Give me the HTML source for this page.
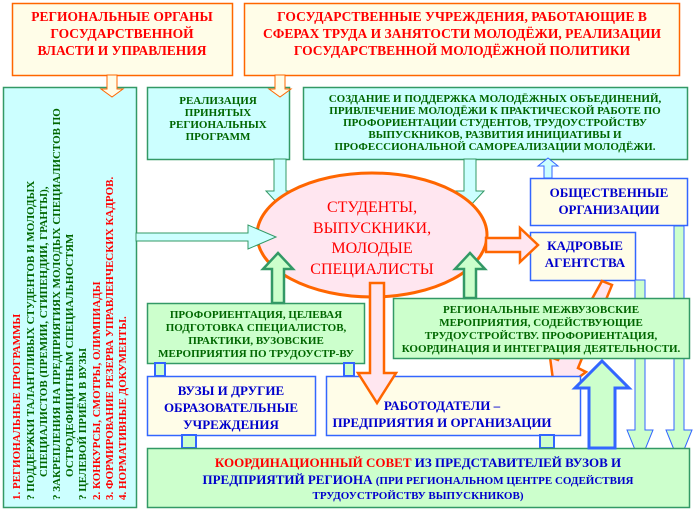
<!DOCTYPE html>
<html><head><meta charset="utf-8"><style>
html,body{margin:0;padding:0;background:#fff;}
svg{display:block}
</style></head><body>
<svg width="696" height="510" viewBox="0 0 696 510" xmlns="http://www.w3.org/2000/svg" font-family="'Liberation Serif', 'DejaVu Serif', serif" font-weight="bold">
<!-- top boxes -->
<rect x="12.5" y="3.5" width="220" height="72" fill="#fffde8" stroke="#ff6600" stroke-width="1.5"/>
<rect x="244.5" y="3.5" width="435" height="72" fill="#fffde8" stroke="#ff6600" stroke-width="1.5"/>
<g fill="#ff0000" font-size="13.5" text-anchor="middle">
<text x="122" y="21">РЕГИОНАЛЬНЫЕ ОРГАНЫ</text>
<text x="122" y="38">ГОСУДАРСТВЕННОЙ</text>
<text x="122" y="55">ВЛАСТИ И УПРАВЛЕНИЯ</text>
<text x="462" y="21">ГОСУДАРСТВЕННЫЕ УЧРЕЖДЕНИЯ, РАБОТАЮЩИЕ В</text>
<text x="462" y="38">СФЕРАХ ТРУДА И ЗАНЯТОСТИ МОЛОДЁЖИ, РЕАЛИЗАЦИИ</text>
<text x="462" y="55">ГОСУДАРСТВЕННОЙ МОЛОДЁЖНОЙ ПОЛИТИКИ</text>
</g>
<!-- left box -->
<rect x="3.5" y="87.5" width="133" height="420" fill="#ccffff" stroke="#339966" stroke-width="1.5"/>
<g font-size="11" transform="rotate(-90)">
<text x="-500" y="20" fill="#ff0000">1. РЕГИОНАЛЬНЫЕ ПРОГРАММЫ</text>
<text x="-500" y="34" fill="#006600">?   ПОДДЕРЖКИ ТАЛАНТЛИВЫХ СТУДЕНТОВ И МОЛОДЫХ</text>
<text x="-477" y="47" fill="#006600">СПЕЦИАЛИСТОВ (ПРЕМИИ, СТИПЕНДИИ, ГРАНТЫ),</text>
<text x="-500" y="60" fill="#006600">?   ЗАКРЕПЛЕНИЯ НА ПРЕДПРИЯТИЯХ МОЛОДЫХ СПЕЦИАЛИСТОВ ПО</text>
<text x="-477" y="73" fill="#006600">ОСТРОДЕФИЦИТНЫМ СПЕЦИАЛЬНОСТЯМ</text>
<text x="-500" y="86" fill="#006600">?   ЦЕЛЕВОЙ ПРИЁМ В ВУЗЫ</text>
<text x="-500" y="100" fill="#ff0000">2. КОНКУРСЫ, СМОТРЫ, ОЛИМПИАДЫ</text>
<text x="-500" y="113" fill="#ff0000">3. ФОРМИРОВАНИЕ РЕЗЕРВА УПРАВЛЕНЧЕСКИХ КАДРОВ.</text>
<text x="-500" y="126" fill="#ff0000">4. НОРМАТИВНЫЕ ДОКУМЕНТЫ.</text>
</g>
<!-- cyan boxes -->
<rect x="147.5" y="87.5" width="142" height="72" fill="#ccffff" stroke="#339966" stroke-width="1.5"/>
<rect x="303.5" y="87.5" width="384" height="72" fill="#ccffff" stroke="#339966" stroke-width="1.5"/>
<g fill="#006600" font-size="11" text-anchor="middle">
<text x="218" y="104">РЕАЛИЗАЦИЯ</text>
<text x="218" y="116">ПРИНЯТЫХ</text>
<text x="218" y="128">РЕГИОНАЛЬНЫХ</text>
<text x="218" y="140">ПРОГРАММ</text>
<text x="495" y="102">СОЗДАНИЕ И ПОДДЕРЖКА МОЛОДЁЖНЫХ ОБЪЕДИНЕНИЙ,</text>
<text x="495" y="114">ПРИВЛЕЧЕНИЕ МОЛОДЁЖИ К ПРАКТИЧЕСКОЙ РАБОТЕ ПО</text>
<text x="495" y="126">ПРОФОРИЕНТАЦИИ СТУДЕНТОВ, ТРУДОУСТРОЙСТВУ</text>
<text x="495" y="138">ВЫПУСКНИКОВ, РАЗВИТИЯ ИНИЦИАТИВЫ И</text>
<text x="495" y="150">ПРОФЕССИОНАЛЬНОЙ САМОРЕАЛИЗАЦИИ МОЛОДЁЖИ.</text>
</g>
<!-- orange small down arrows -->
<path d="M107,75 h10 v14 h6 l-11,8 l-11,-8 h6z" fill="#fffde8" stroke="#ff6600"/>
<path d="M275,75 h10 v14 h6 l-11,8 l-11,-8 h6z" fill="#fffde8" stroke="#ff6600"/>
<!-- cyan down arrows -->
<path d="M274,159 h12 v32 h8 l-14,15 l-14,-15 h8z" fill="#ccffff" stroke="#339966"/>
<path d="M464,159 h12 v32 h8 l-14,15 l-14,-15 h8z" fill="#ccffff" stroke="#339966"/>
<!-- ellipse -->
<ellipse cx="372" cy="235" rx="115" ry="62" fill="#ffe6f0" stroke="#ff6600" stroke-width="3"/>
<g fill="#ff0000" font-size="16" text-anchor="middle" font-weight="normal">
<text x="372" y="212">СТУДЕНТЫ,</text>
<text x="372" y="233">ВЫПУСКНИКИ,</text>
<text x="372" y="253">МОЛОДЫЕ</text>
<text x="372" y="274">СПЕЦИАЛИСТЫ</text>
</g>
<!-- cyan right arrow from left box -->
<path d="M136,233 h112 v-8 l28,12 l-28,12 v-8 h-112z" fill="#ccffff" stroke="#339966"/>
<!-- Общественные, Кадровые -->
<rect x="530.5" y="178.5" width="157" height="47" fill="#fffde8" stroke="#3366ff" stroke-width="1.5"/>
<rect x="530.5" y="232.5" width="105" height="48" fill="#fffde8" stroke="#3366ff" stroke-width="1.5"/>
<g fill="#0000cc" font-size="13" text-anchor="middle">
<text x="609" y="197">ОБЩЕСТВЕННЫЕ</text>
<text x="609" y="214">ОРГАНИЗАЦИИ</text>
<text x="585" y="250">КАДРОВЫЕ</text>
<text x="585" y="267">АГЕНТСТВА</text>
</g>
<!-- blue up arrow to Создание -->
<path d="M544,178 v-12 h-6 l10,-8 l10,8 h-6 v12z" fill="#ccffff" stroke="#3366ff"/>
<!-- orange right arrow to Кадровые -->
<path d="M486,238 h34 v-10 l18,17 l-18,17 v-10 h-34z" fill="#ffe6f0" stroke="#ff6600" stroke-width="2.5"/>
<!-- right vertical arrows -->
<path d="M635,280 h10 v150 h8 l-13,32 l-13,-32 h8z" fill="#ccffcc" stroke="#3366ff" stroke-width="1"/>
<path d="M674,226 h10 v204 h8 l-13,32 l-13,-32 h8z" fill="#ccffcc" stroke="#3366ff" stroke-width="1"/>
<!-- diagonal orange arrow -->
<path d="M602,281 L612,285 L578,368 L586,372 L555,395 L550,357 L558,360 Z" fill="#ffe6f0" stroke="#ff6600" stroke-width="2.5"/>
<!-- Профориентация & Regional boxes -->
<rect x="147.5" y="303.5" width="217" height="60" fill="#ccffcc" stroke="#339966" stroke-width="1.5"/>
<rect x="393.5" y="298.5" width="296" height="60" fill="#ccffcc" stroke="#339966" stroke-width="1.5"/>
<g fill="#006600" font-size="11" text-anchor="middle">
<text x="256" y="318">ПРОФОРИЕНТАЦИЯ, ЦЕЛЕВАЯ</text>
<text x="256" y="331">ПОДГОТОВКА СПЕЦИАЛИСТОВ,</text>
<text x="256" y="344">ПРАКТИКИ, ВУЗОВСКИЕ</text>
<text x="256" y="357">МЕРОПРИЯТИЯ ПО ТРУДОУСТР-ВУ</text>
<text x="541" y="313">РЕГИОНАЛЬНЫЕ МЕЖВУЗОВСКИЕ</text>
<text x="541" y="326">МЕРОПРИЯТИЯ, СОДЕЙСТВУЮЩИЕ</text>
<text x="541" y="339">ТРУДОУСТРОЙСТВУ. ПРОФОРИЕНТАЦИЯ,</text>
<text x="541" y="352">КООРДИНАЦИЯ И ИНТЕГРАЦИЯ ДЕЯТЕЛЬНОСТИ.</text>
</g>
<!-- green up arrows -->
<path d="M272,303 v-34 h-9 l15,-16 l15,16 h-9 v34z" fill="#ccffcc" stroke="#339966" stroke-width="2.5"/>
<path d="M464,298 v-29 h-9 l15,-16 l15,16 h-9 v29z" fill="#ccffcc" stroke="#339966" stroke-width="2.5"/>
<!-- Вузы, Работодатели -->
<rect x="147.5" y="376.5" width="168" height="59" fill="#fffde8" stroke="#3366ff" stroke-width="1.5"/>
<rect x="326.5" y="376.5" width="254" height="59" fill="#fffde8" stroke="#3366ff" stroke-width="1.5"/>
<g fill="#0000cc" font-size="13" text-anchor="middle">
<text x="231" y="395">ВУЗЫ И ДРУГИЕ</text>
<text x="231" y="412">ОБРАЗОВАТЕЛЬНЫЕ</text>
<text x="231" y="429">УЧРЕЖДЕНИЯ</text>
<text x="442" y="410">РАБОТОДАТЕЛИ –</text>
<text x="442" y="427">ПРЕДПРИЯТИЯ И ОРГАНИЗАЦИИ</text>
</g>
<!-- orange down arrow to Работодатели -->
<path d="M370,283 h14 v90 h12 l-19,30 l-19,-30 h12z" fill="#ffe6f0" stroke="#ff6600" stroke-width="2.5"/>
<!-- blue small connectors -->
<rect x="155" y="363" width="10" height="13" fill="#ccffcc" stroke="#3366ff" stroke-width="2"/>
<rect x="344" y="363" width="10" height="13" fill="#ccffcc" stroke="#3366ff" stroke-width="2"/>
<rect x="182" y="435" width="14" height="13" fill="#ccffcc" stroke="#3366ff" stroke-width="2"/>
<rect x="540" y="435" width="14" height="13" fill="#ccffcc" stroke="#3366ff" stroke-width="2"/>
<!-- Коорд -->
<rect x="147.5" y="448.5" width="542" height="59" fill="#ccffcc" stroke="#339966" stroke-width="1.5"/>
<!-- big blue-outline up arrow -->
<path d="M589,448 v-60 h-14 l27,-27 l27,27 h-14 v60z" fill="#ccffcc" stroke="#3366ff" stroke-width="3"/>
<g text-anchor="middle">
<text x="418" y="467" font-size="13"><tspan fill="#ff0000">КООРДИНАЦИОННЫЙ СОВЕТ</tspan><tspan fill="#0000cc"> ИЗ ПРЕДСТАВИТЕЛЕЙ ВУЗОВ И</tspan></text>
<text x="418" y="484" font-size="13" fill="#0000cc">ПРЕДПРИЯТИЙ РЕГИОНА <tspan font-size="11">(ПРИ РЕГИОНАЛЬНОМ ЦЕНТРЕ СОДЕЙСТВИЯ</tspan></text>
<text x="418" y="499" font-size="11" fill="#0000cc">ТРУДОУСТРОЙСТВУ ВЫПУСКНИКОВ)</text>
</g>
</svg>
</body></html>
